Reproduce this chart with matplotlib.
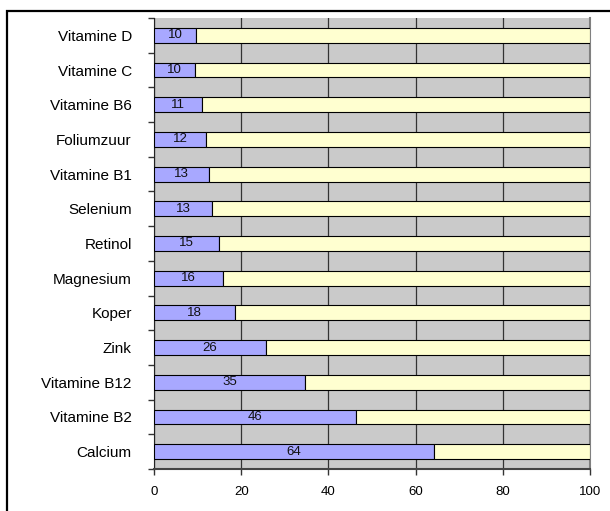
import matplotlib
matplotlib.use('Agg')
from matplotlib import pyplot as plt
from matplotlib.patches import Rectangle
import numpy as np

categories = ['Vitamine D', 'Vitamine C', 'Vitamine B6', 'Foliumzuur', 'Vitamine B1',
              'Selenium', 'Retinol', 'Magnesium', 'Koper', 'Zink',
              'Vitamine B12', 'Vitamine B2', 'Calcium']
values = [9.6, 9.4, 11.0, 12.0, 12.7, 13.3, 15.0, 15.9, 18.5, 25.7, 34.7, 46.3, 64.2]
value_labels = ['10', '10', '11', '12', '13', '13', '15', '16', '18', '26', '35', '46', '64']
xticks = [0, 20, 40, 60, 80, 100]

plt.rcParams['font.family'] = ['Liberation Sans', 'DejaVu Sans']

fig = plt.figure(figsize=(6.1, 5.11), dpi=100)
# outer chart frame, cut off at right and bottom like the original
fig.patches.append(Rectangle((7 / 610, -0.1), 1.2, 1 - 11 / 511 + 0.1,
                             transform=fig.transFigure, fill=False,
                             edgecolor='black', linewidth=1.6))
ax = fig.add_axes([154 / 610, 1 - 469 / 511, 436 / 610, 451 / 511])
ax.set_facecolor('#CACACA')

y = np.arange(len(categories))
rest = [100 - v for v in values]
ax.barh(y, values, height=0.43, color='#A8A8FF', edgecolor='black', linewidth=0.8, zorder=3)
ax.barh(y, rest, left=values, height=0.43, color='#FFFFD0', edgecolor='black', linewidth=0.8, zorder=3)
for yi, v, lab in zip(y, values, value_labels):
    ax.text(v / 2, yi, lab, ha='center', va='center', fontsize=9.5, color='#111111', zorder=4)

ax.set_xlim(0, 100)
ax.set_ylim(len(categories) - 0.5, -0.5)
ax.set_xticks(xticks)
ax.set_xticklabels([str(t) for t in xticks], fontsize=9.5)
ax.xaxis.grid(True, color='#333333', linewidth=0.9, zorder=1)
ax.set_axisbelow(True)

ax.set_yticks(y)
ax.set_yticklabels(categories, fontsize=11)
ax.tick_params(axis='y', length=0, pad=16)
ax.set_yticks(np.arange(len(categories) + 1) - 0.5, minor=True)
ax.tick_params(axis='y', which='minor', length=4, width=1, color='#333333', direction='out')
ax.tick_params(axis='x', length=4, width=1, color='#333333', pad=8)

ax.spines['top'].set_visible(False)
ax.spines['right'].set_color('#808080')
ax.spines['right'].set_linewidth(1.5)
ax.spines['left'].set_color('#222222')
ax.spines['bottom'].set_color('#444444')
ax.spines['bottom'].set_linewidth(1.5)

plt.savefig('out.png', dpi=100)
